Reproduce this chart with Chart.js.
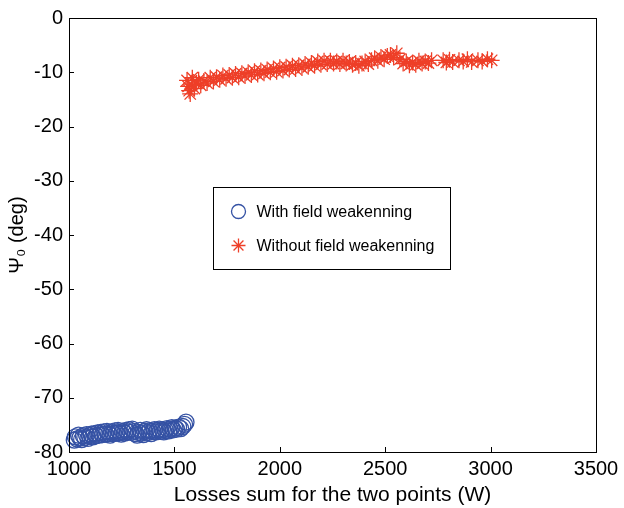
<!DOCTYPE html>
<html>
<head>
<meta charset="utf-8">
<script src="https://cdn.jsdelivr.net/npm/chart.js@4/dist/chart.umd.min.js"></script>
<style>
  html, body { margin: 0; padding: 0; background: #fff; }
  #chart { display: block; }
</style>
</head>
<body>
<canvas id="chart" width="624" height="508"></canvas>
<script>
// ---------------------------------------------------------------------------
// Data
// ---------------------------------------------------------------------------

const withFwLosses = [
  1025, 1030, 1038, 1045, 1052, 1060, 1068, 1075, 1083, 1090, 1098, 1105,
  1113, 1120, 1128, 1135, 1143, 1150, 1158, 1165, 1173, 1180, 1188, 1195,
  1203, 1210, 1218, 1225, 1233, 1240, 1248, 1255, 1263, 1270, 1278, 1285,
  1293, 1300, 1308, 1315, 1323, 1330, 1338, 1345, 1353, 1360, 1368, 1375,
  1383, 1390, 1398, 1405, 1413, 1420, 1428, 1435, 1443, 1450, 1458, 1465,
  1473, 1480, 1488, 1495, 1503, 1510, 1520, 1530, 1540, 1548, 1555,
];
const withFwPsi = [
  -77.8, -77.2, -77.6, -76.9, -77.4, -77.7, -77.0, -77.3, -76.8, -77.5, -77.0, -76.7,
  -77.2, -76.6, -77.0, -76.5, -76.9, -76.4, -76.8, -76.3, -76.7, -76.2, -76.6, -76.9,
  -76.3, -76.6, -76.1, -76.5, -76.0, -76.4, -76.7, -76.2, -76.5, -76.0, -76.3, -75.9,
  -76.4, -75.8, -76.2, -76.6, -76.9, -76.4, -76.0, -76.5, -76.8, -76.2, -75.9, -76.4,
  -76.1, -76.6, -76.2, -75.9, -76.3, -76.0, -75.8, -76.2, -75.9, -76.3, -76.0, -75.7,
  -76.1, -75.8, -75.5, -75.9, -75.6, -75.8, -75.4, -75.7, -75.3, -74.9, -74.5,
];

const withoutFwLosses = [
  1560, 1565, 1570, 1575, 1580, 1585, 1595, 1605, 1615, 1625, 1640, 1655,
  1670, 1685, 1700, 1715, 1730, 1745, 1760, 1775, 1790, 1805, 1820, 1835,
  1850, 1865, 1880, 1895, 1910, 1925, 1940, 1955, 1970, 1985, 2000, 2015,
  2030, 2045, 2060, 2075, 2090, 2105, 2120, 2135, 2150, 2165, 2180, 2195,
  2210, 2225, 2240, 2255, 2270, 2285, 2300, 2315, 2330, 2345, 2360, 2375,
  2390, 2405, 2420, 2435, 2450, 2465, 2480, 2495, 2510, 2525, 2540, 2555,
  2570, 2585, 2600, 2615, 2630, 2645, 2660, 2675, 2690, 2705, 2720, 2775,
  2790, 2805, 2820, 2850, 2870, 2890, 2910, 2940, 2960, 2985, 3005,
];
const withoutFwPsi = [
  -11.5, -12.6, -13.4, -14.0, -12.2, -11.0, -13.0, -12.0, -11.4, -12.4, -11.6, -12.0,
  -11.0, -11.7, -10.9, -11.4, -10.6, -11.2, -10.5, -11.0, -10.3, -10.9, -10.2, -10.7,
  -10.0, -10.5, -9.8, -10.4, -9.7, -10.2, -9.5, -10.0, -9.3, -9.9, -9.1, -9.7,
  -9.0, -9.5, -8.8, -9.4, -8.7, -9.2, -8.5, -9.0, -8.3, -8.8, -8.0, -8.6,
  -7.9, -8.5, -7.9, -8.4, -8.0, -8.5, -7.9, -8.4, -8.1, -8.6, -8.3, -8.8,
  -8.4, -8.0, -8.5, -7.8, -7.4, -7.9, -7.2, -7.6, -7.0, -6.8, -7.3, -6.5,
  -7.6, -8.4, -8.0, -8.7, -8.2, -8.6, -7.9, -8.4, -8.0, -8.3, -7.8, -7.8,
  -8.2, -7.7, -8.1, -7.8, -8.0, -7.6, -8.1, -7.8, -8.0, -7.6, -7.8,
];

const seriesLabels = ["With field weakenning", "Without field weakenning"];
const xTicks = [1000, 1500, 2000, 2500, 3000, 3500];
const yTicks = [-80, -70, -60, -50, -40, -30, -20, -10, 0];

// ---------------------------------------------------------------------------
// Styling
// ---------------------------------------------------------------------------

const BLUE = "#3552a4";
const RED = "#ee3f28";
const FONT = "'Liberation Sans', Arial, Helvetica, sans-serif";

function toPoints(xs, ys) {
  return xs.map((x, i) => ({ x, y: ys[i] }));
}

// Matlab-style box: frame on all sides, ticks pointing inward
const boxAndTicks = {
  id: "boxAndTicks",
  afterDraw(chart) {
    const { ctx, chartArea: a, scales } = chart;
    ctx.save();
    ctx.strokeStyle = "#000";
    ctx.lineWidth = 1;
    ctx.strokeRect(a.left + 0.5, a.top + 0.5, a.right - a.left, a.bottom - a.top);
    ctx.beginPath();
    xTicks.forEach(v => {
      const px = Math.round(scales.x.getPixelForValue(v)) + 0.5;
      ctx.moveTo(px, a.bottom);
      ctx.lineTo(px, a.bottom - 5);
    });
    yTicks.forEach(v => {
      const py = Math.round(scales.y.getPixelForValue(v)) + 0.5;
      ctx.moveTo(a.left, py);
      ctx.lineTo(a.left + 5, py);
    });
    ctx.stroke();
    ctx.restore();
  },
};

// Legend box inside the plot, as in the reference
const innerLegend = {
  id: "innerLegend",
  afterDraw(chart) {
    const { ctx } = chart;
    const box = { x: 213.5, y: 187.5, w: 237, h: 82 };
    ctx.save();
    ctx.fillStyle = "#fff";
    ctx.fillRect(box.x, box.y, box.w, box.h);
    ctx.strokeStyle = "#000";
    ctx.lineWidth = 1;
    ctx.strokeRect(box.x, box.y, box.w, box.h);

    ctx.font = "16px " + FONT;
    ctx.textBaseline = "middle";
    const rows = [box.y + 24, box.y + 58];
    chart.data.datasets.forEach((ds, i) => {
      ctx.strokeStyle = ds.borderColor;
      ctx.fillStyle = "rgba(0,0,0,0)";
      ctx.lineWidth = ds.borderWidth;
      Chart.helpers.drawPoint(ctx, {
        pointStyle: ds.pointStyle,
        radius: 7,
        borderWidth: ds.borderWidth,
      }, box.x + 25, rows[i]);
      ctx.fillStyle = "#000";
      ctx.fillText(ds.label, box.x + 43, rows[i] + 1);
    });
    ctx.restore();
  },
};

const tickFont = { family: FONT, size: 20 };

new Chart(document.getElementById("chart"), {
  type: "scatter",
  data: {
    datasets: [
      {
        label: seriesLabels[0],
        data: toPoints(withFwLosses, withFwPsi),
        pointStyle: "circle",
        pointRadius: 8,
        borderColor: BLUE,
        backgroundColor: "rgba(0,0,0,0)",
        borderWidth: 1.3,
        clip: false,
      },
      {
        label: seriesLabels[1],
        data: toPoints(withoutFwLosses, withoutFwPsi),
        pointStyle: "star",
        pointRadius: 8,
        borderColor: RED,
        backgroundColor: RED,
        borderWidth: 1.3,
        clip: false,
      },
    ],
  },
  options: {
    responsive: false,
    animation: false,
    events: [],
    layout: { padding: { top: 17, right: 28, left: 0, bottom: 0 } },
    plugins: { legend: { display: false }, tooltip: { enabled: false } },
    scales: {
      x: {
        type: "linear",
        min: 1000,
        max: 3500,
        afterBuildTicks: s => { s.ticks = xTicks.map(v => ({ value: v })); },
        afterFit: s => { s.height = 56; },
        grid: { display: false, drawTicks: false },
        border: { display: false },
        ticks: { color: "#000", font: tickFont, padding: 5, maxRotation: 0, callback: v => String(v) },
        title: {
          display: true,
          text: "Losses sum for the two points (W)",
          color: "#000",
          font: { family: FONT, size: 21 },
          padding: { top: -9, bottom: 0 },
        },
      },
      y: {
        type: "linear",
        min: -80,
        max: 0,
        afterBuildTicks: s => { s.ticks = yTicks.map(v => ({ value: v })); },
        afterFit: s => { s.width = 69; },
        grid: { display: false, drawTicks: false },
        border: { display: false },
        ticks: { color: "#000", font: tickFont, padding: 6, callback: v => String(v) },
        title: {
          display: true,
          text: "Ψ₀ (deg)",
          color: "#000",
          font: tickFont,
          padding: { top: 5, bottom: 0 },
        },
      },
    },
  },
  plugins: [boxAndTicks, innerLegend],
});
</script>
</body>
</html>
